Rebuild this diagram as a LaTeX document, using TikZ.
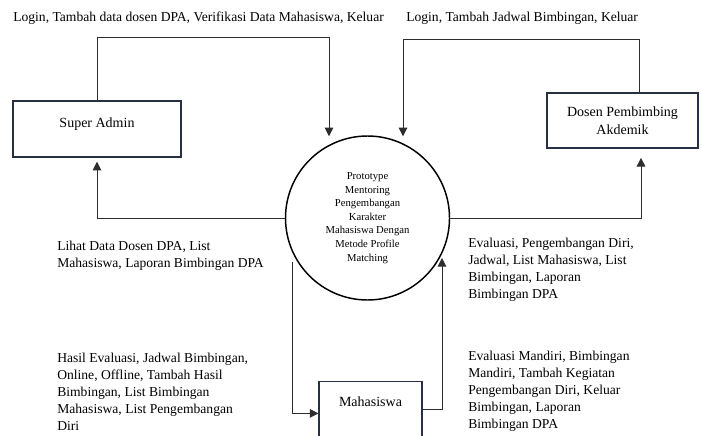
\documentclass[tikz,border=0pt]{standalone}
\usepackage{fontspec}
\setmainfont{Liberation Serif}
\usetikzlibrary{arrows.meta, positioning, calc}
\definecolor{boxc}{RGB}{40,48,68}
\definecolor{linec}{RGB}{45,45,45}

\begin{document}
\begin{tikzpicture}[
  x=0.75pt, y=-0.75pt,
  ent/.style={rectangle, draw=boxc, line width=1.1pt, align=center, font=\fontsize{10.5}{13.5}\selectfont},
  proc/.style={circle, draw, line width=1.1pt, minimum size=123pt, inner sep=0pt, align=center, font=\fontsize{8}{10.2}\selectfont},
  lbl/.style={anchor=north west, align=left, inner sep=0pt, font=\fontsize{10.2}{12.75}\selectfont},
  arr/.style={draw=linec, -{Triangle[length=6.5pt, width=6.5pt]}, line width=0.7pt}
]
  \useasboundingbox (0,0) rectangle (702,435);
  \clip (0,0) rectangle (702,435);

  % Entities and process
  \node[ent, minimum width=126pt, minimum height=42pt, text depth=9pt] (sa) at (97,129) {Super Admin};
  \node[ent, minimum width=113pt, minimum height=41pt] (dpa) at (622.5,120.5) {Dosen Pembimbing\\Akdemik};
  \node[ent, minimum width=77pt, anchor=north, text height=18.5pt, text depth=29pt, inner ysep=0pt] (mhs) at (370.5,381) {Mahasiswa};
  \node[proc] (prc) at (367.5,218) {Prototype\\Mentoring\\Pengembangan\\Karakter\\Mahasiswa Dengan\\Metode Profile\\Matching};

  \coordinate (m1) at (292,262);
  \coordinate (m2) at (442,258);

  % Flows
  \draw[arr] (sa.north) -- ++(0,-63) -| ($(prc.north)+(-38.5,1)$);
  \draw[arr] ($(dpa.north)+(17,0)$) -- ++(0,-53) -| ($(prc.north)+(35.5,1)$);
  \draw[arr, shorten >=3pt] (prc.west) -| (sa.south);
  \draw[arr, shorten >=7pt] (prc.east) -| ($(dpa.south)+(18.5,0)$);
  \draw[arr] (m1) |- (mhs.west);
  \draw[arr] ($(mhs.east)+(0,-4)$) -| (m2);

  % Labels
  \node[lbl, anchor=west] (t1) at (13,18) {Login, Tambah data dosen DPA, Verifikasi Data Mahasiswa, Keluar};
  \node[lbl, anchor=west] (t2) at (406,18) {Login, Tambah Jadwal Bimbingan, Keluar};
  \node[lbl] (t3) at (57,241) {Lihat Data Dosen DPA, List\\Mahasiswa, Laporan Bimbingan DPA};
  \node[lbl] (t4) at (57,353) {Hasil Evaluasi, Jadwal Bimbingan,\\Online, Offline, Tambah Hasil\\Bimbingan, List Bimbingan\\Mahasiswa, List Pengembangan\\Diri};
  \node[lbl] (t5) at (468,238) {Evaluasi, Pengembangan Diri,\\Jadwal, List Mahasiswa, List\\Bimbingan, Laporan\\Bimbingan DPA};
  \node[lbl] (t6) at (468,351) {Evaluasi Mandiri, Bimbingan\\Mandiri, Tambah Kegiatan\\Pengembangan Diri, Keluar\\Bimbingan, Laporan\\Bimbingan DPA};
\end{tikzpicture}
\end{document}
